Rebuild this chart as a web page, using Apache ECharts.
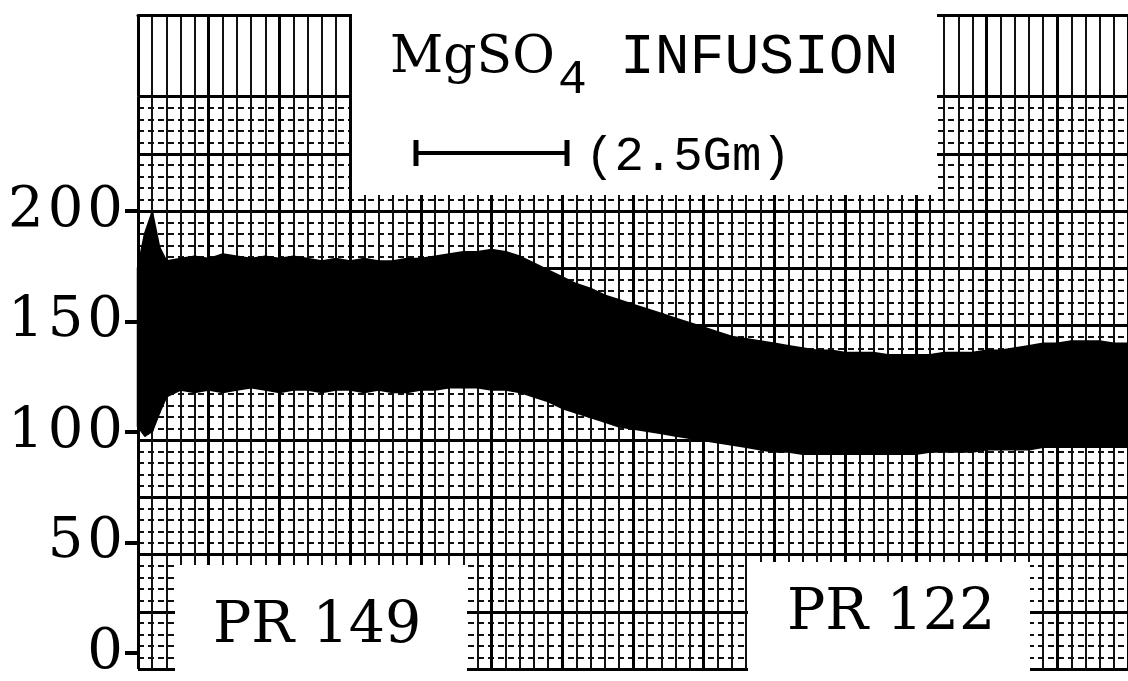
<!DOCTYPE html>
<html>
<head>
<meta charset="utf-8">
<script src="https://cdn.jsdelivr.net/npm/echarts@6/dist/echarts.min.js"></script>
<style>
  html, body { margin: 0; padding: 0; background: #fff; }
  #chart { width: 1128px; height: 681px; }
</style>
</head>
<body>
<div id="chart"></div>
<script>
// Time along the strip, in chart-paper minor divisions
const time = [0, 0.5, 1, 1.5, 2,
  3, 4, 5, 6, 7, 8, 9, 10, 11, 12, 13, 14, 15, 16, 17, 18, 19, 20,
  21, 22, 23, 24, 25, 26, 27, 28, 29, 30, 31, 32, 33, 34, 35, 36, 37, 38,
  39, 40, 41, 42, 43, 44, 45, 46, 47, 48, 49, 50, 51, 52, 53, 54, 55, 56,
  57, 58, 59, 60, 61, 62, 63, 64, 65, 66, 67, 68, 69, 70];

// Systolic peaks of the pressure trace (mmHg)
const systolic = [175, 190, 199, 184, 178,
  179, 180, 179, 181, 180, 179, 180, 179, 180, 179, 178, 179, 178, 179, 178, 178, 179, 179,
  180, 181, 182, 182, 183, 182, 180, 177, 174, 171, 168, 166, 163, 161, 159, 157, 155, 153,
  151, 149, 147, 145, 144, 143, 142, 141, 140, 139, 139, 138, 138, 138, 137, 137, 137, 137,
  138, 138, 138, 139, 139, 140, 141, 142, 142, 143, 143, 143, 142, 142];

// Diastolic troughs of the pressure trace (mmHg)
const diastolic = [106, 102, 104, 112, 119,
  122, 121, 122, 121, 122, 123, 122, 121, 122, 122, 121, 122, 122, 121, 122, 121, 121, 122,
  122, 123, 123, 123, 122, 122, 121, 119, 117, 114, 112, 110, 108, 106, 105, 104, 103, 102,
  101, 100, 99, 98, 97, 96, 95, 95, 94, 94, 94, 94, 94, 94, 94, 94, 94, 95,
  95, 95, 95, 96, 96, 96, 96, 97, 97, 97, 97, 97, 97, 97];

// Pressure scale labels
const yTicks = [0, 50, 100, 150, 200];

// Layout of the paper
const BASE = 669;        // pixel row of 0 mmHg
const K = 2.29;          // pixels per mmHg
const LEFT = 138;
const WIDTH = 994;
const T_MAX = 70;
const PAPER_TOP = 15;
const MAIN_TOP = BASE - 250 * K;

const SERIF = '"DejaVu Serif", "Liberation Serif", serif';
const MONO = '"Liberation Mono", "DejaVu Sans Mono", monospace';

// one row per sample: time, diastolic, systolic
const bandData = time.map((t, i) => [t, diastolic[i], systolic[i]]);

const paperX = (gridIndex, extra) => Object.assign({
  gridIndex, type: 'value', min: 0, max: T_MAX, interval: 5,
  axisLine: { show: false }, axisTick: { show: false }, axisLabel: { show: false },
  splitLine: { show: true, lineStyle: { color: '#000', width: 3 } },
  minorTick: { show: false, splitNumber: 5 },
  minorSplitLine: { show: true, lineStyle: { color: '#111', width: 2 } }
}, extra || {});

// pressure band between consecutive beats' troughs and peaks
function renderBand(params, api) {
  const i = params.dataIndex;
  if (i >= bandData.length - 1) return null;
  const a = bandData[i], b = bandData[i + 1];
  const pts = [
    api.coord([a[0], a[1]]), api.coord([a[0], a[2]]),
    api.coord([b[0], b[2]]), api.coord([b[0], b[1]])
  ];
  return {
    type: 'polygon',
    shape: { points: pts },
    style: { fill: '#000', stroke: '#000', lineWidth: 2.5, lineJoin: 'round' }
  };
}

const chart = echarts.init(document.getElementById('chart'), null, { renderer: 'canvas' });

chart.setOption({
  backgroundColor: '#fff',
  animation: false,
  grid: [
    { left: LEFT, width: WIDTH, top: MAIN_TOP, height: 250 * K },
    { left: LEFT, width: WIDTH, top: PAPER_TOP, height: MAIN_TOP - PAPER_TOP },
    { left: LEFT, width: WIDTH, top: BASE - 200 * K, height: 200 * K }
  ],
  xAxis: [
    paperX(0),
    paperX(1, { position: 'top', axisLine: { show: true, lineStyle: { color: '#000', width: 3 } } }),
    { gridIndex: 2, type: 'value', min: 0, max: T_MAX, show: false }
  ],
  yAxis: [
    {
      gridIndex: 0, type: 'value', min: 0, max: 250, interval: 25,
      axisLine: { show: false }, axisTick: { show: false }, axisLabel: { show: false },
      splitLine: { show: true, lineStyle: { color: '#000', width: 3 } },
      minorTick: { show: false, splitNumber: 5 },
      minorSplitLine: { show: true, lineStyle: { color: '#111', width: 2, type: [6, 4] } }
    },
    {
      gridIndex: 1, type: 'value', min: 250, max: 285,
      axisLine: { show: false }, axisTick: { show: false }, axisLabel: { show: false },
      splitLine: { show: false }
    },
    {
      gridIndex: 2, type: 'value', min: 0, max: 200, interval: 50,
      axisLine: { show: false },
      axisTick: { show: true, length: 13, lineStyle: { color: '#000', width: 4 } },
      splitLine: { show: false },
      axisLabel: {
        show: true, margin: 13, color: '#000',
        customValues: yTicks,
        formatter: v => String(v).split('').map(c => '{d|' + c + '}').join(''),
        rich: { d: { fontFamily: SERIF, fontSize: 56, color: '#000', padding: [0, 2, 0, 2] } }
      }
    }
  ],
  series: [
    {
      name: 'arterial pressure', type: 'custom', xAxisIndex: 0, yAxisIndex: 0,
      data: bandData, encode: { x: 0, y: [1, 2] },
      renderItem: renderBand, z: 5, clip: false
    }
  ],
  graphic: {
    elements: [
      // blank areas of the paper
      { type: 'rect', z: 100, shape: { x: 352, y: 0, width: 585, height: 195 }, style: { fill: '#fff' } },
      { type: 'rect', z: 100, shape: { x: 175, y: 565, width: 292, height: 120 }, style: { fill: '#fff' } },
      { type: 'rect', z: 100, shape: { x: 748, y: 562, width: 282, height: 120 }, style: { fill: '#fff' } },
      // infusion period marker
      { type: 'line', z: 110, shape: { x1: 415, y1: 153, x2: 568, y2: 153 }, style: { stroke: '#000', lineWidth: 4 } },
      { type: 'line', z: 110, shape: { x1: 416, y1: 140, x2: 416, y2: 166 }, style: { stroke: '#000', lineWidth: 5 } },
      { type: 'line', z: 110, shape: { x1: 567, y1: 140, x2: 567, y2: 166 }, style: { stroke: '#000', lineWidth: 5 } },
      // annotations
      { type: 'text', z: 110, style: { text: 'MgSO', x: 390, y: 58, fill: '#000', fontFamily: SERIF, fontSize: 52, textVerticalAlign: 'middle' } },
      { type: 'text', z: 110, style: { text: '4', x: 558, y: 80, fill: '#000', fontFamily: MONO, fontSize: 48, textVerticalAlign: 'middle' } },
      { type: 'text', z: 110, style: { text: 'INFUSION', x: 620, y: 58, fill: '#000', fontFamily: MONO, fontSize: 58, textVerticalAlign: 'middle' } },
      { type: 'text', z: 110, style: { text: '(2.5Gm)', x: 585, y: 157, fill: '#000', fontFamily: MONO, fontSize: 49, textVerticalAlign: 'middle' } },
      { type: 'text', z: 110, style: { text: 'PR 149', x: 213, y: 627, fill: '#000', fontFamily: SERIF, fontSize: 57, textVerticalAlign: 'middle' } },
      { type: 'text', z: 110, style: { text: 'PR 122', x: 787, y: 614, fill: '#000', fontFamily: SERIF, fontSize: 57, textVerticalAlign: 'middle' } }
    ]
  }
});
</script>
</body>
</html>
